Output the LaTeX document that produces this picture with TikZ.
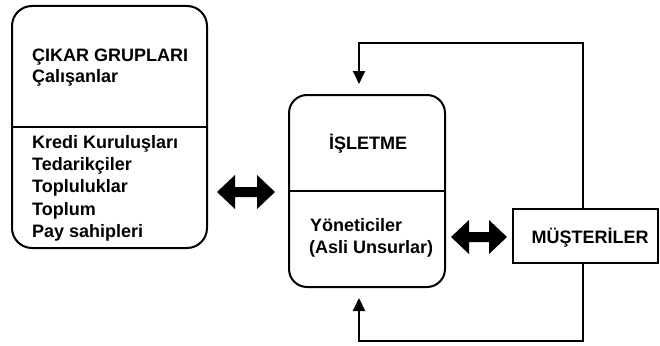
\documentclass[tikz,border=0pt]{standalone}
\usepackage{fontspec}
\setmainfont{Liberation Sans}
\usetikzlibrary{arrows.meta,calc}
\begin{document}
\begin{tikzpicture}[x=1pt,y=-1pt,
  box/.style={draw, line width=2pt, inner sep=0pt, outer sep=0pt},
  lbl/.style={font=\bfseries\fontsize{18}{21}\selectfont, inner sep=0pt},
  divline/.style={line width=1.6pt},
  fb/.style={line width=2pt, -{Triangle[length=13pt,width=12pt]}},
  dbl/.style={fill=black, draw=none}]
\useasboundingbox (0,0) rectangle (660,345);
% boxes
\node[box, rounded corners=20pt, minimum width=195pt, minimum height=242pt] (cikar) at (109.5,127) {};
\node[box, rounded corners=18pt, minimum width=156pt, minimum height=192pt] (isl) at (367,191) {};
\node[box, minimum width=145pt, minimum height=54pt] (mus) at (585.5,236) {};
% dividers
\draw[divline] (cikar.west |- 0,127) -- (cikar.east |- 0,127);
\draw[divline] (isl.west |- 0,191) -- (isl.east |- 0,191);
% texts
\node[lbl, anchor=base west] (t1) at (32,61) {ÇIKAR GRUPLARI};
\node[lbl, anchor=base west] (t2) at (32,82) {Çalışanlar};
\node[lbl, anchor=base west] (t3) at (32,148.3) {Kredi Kuruluşları};
\node[lbl, anchor=base west] (t4) at (32,170.5) {Tedarikçiler};
\node[lbl, anchor=base west] (t5) at (32,192.8) {Topluluklar};
\node[lbl, anchor=base west] (t6) at (32,215) {Toplum};
\node[lbl, anchor=base west] (t7) at (32,237.3) {Pay sahipleri};
\node[lbl, anchor=base] (t8) at (368,149.3) {İŞLETME};
\node[lbl, anchor=base west] (t9) at (310,231.7) {Yöneticiler};
\node[lbl, anchor=base west] (t10) at (309,253) {(Asli Unsurlar)};
\node[lbl, anchor=base] (t11) at (590,243) {MÜŞTERİLER};
% double arrows
\fill[dbl] (217,192) -- (235,175) -- (235,187) -- (257,187) -- (257,175) -- (275,192)
  -- (257,209) -- (257,197) -- (235,197) -- (235,209) -- cycle;
\fill[dbl] (451,237) -- (469,220) -- (469,232) -- (489,232) -- (489,220) -- (507,237)
  -- (489,254) -- (489,242) -- (469,242) -- (469,254) -- cycle;
% feedback loops
\coordinate (topR) at (583,43);
\coordinate (topL) at (359,43);
\coordinate (topT) at (359,84);
\draw[fb] (mus.north -| topR) -- (topR) -- (topL) -- (topT);
\coordinate (botR) at (583,341);
\coordinate (botL) at (359,341);
\coordinate (botT) at (359,298);
\draw[fb] (mus.south -| botR) -- (botR) -- (botL) -- (botT);
\end{tikzpicture}
\end{document}
